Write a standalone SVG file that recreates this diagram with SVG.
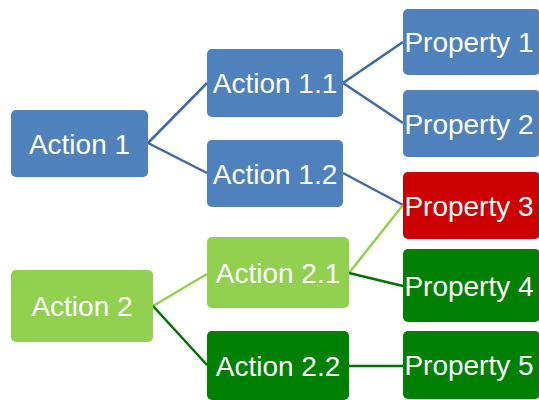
<svg xmlns="http://www.w3.org/2000/svg" width="539" height="400" viewBox="0 0 539 400">
<style>
.blue{fill:#4F81BD}
.lg{fill:#92D050}
.dg{fill:#008000}
.red{fill:#CC0000}
text{font-family:"Liberation Sans",Arial,sans-serif;font-size:28px;fill:#FFFFFF;text-anchor:middle}
.c{fill:none;stroke-width:2.5}
.cb{stroke:#40699E}
.clg{stroke:#92D050}
.cdg{stroke:#007000}
</style>
<rect width="539" height="400" fill="#FFFFFF"/>
<g id="connectors">
<line class="c cb" x1="148" y1="143" x2="207" y2="83"/>
<line class="c cb" x1="148" y1="143" x2="207" y2="173"/>
<line class="c cb" x1="343" y1="83" x2="403" y2="42"/>
<line class="c cb" x1="343" y1="83" x2="403" y2="123"/>
<line class="c cb" x1="343" y1="173" x2="403" y2="205"/>
<line class="c clg" x1="153" y1="306" x2="207" y2="274"/>
<line class="c cdg" x1="153" y1="306" x2="207" y2="365"/>
<line class="c clg" x1="349" y1="273" x2="403" y2="205"/>
<line class="c cdg" x1="349" y1="273" x2="403" y2="286"/>
<line class="c cdg" x1="349" y1="366" x2="403" y2="366"/>
</g>
<g id="action1"><rect class="blue" x="11" y="110" width="137" height="67" rx="5"/><text x="79.5" y="153.5">Action 1</text></g>
<g id="action11"><rect class="blue" x="207" y="49" width="136" height="68" rx="5"/><text x="275" y="93">Action 1.1</text></g>
<g id="action12"><rect class="blue" x="207" y="140" width="136" height="67" rx="5"/><text x="275" y="183.5">Action 1.2</text></g>
<g id="action2"><rect class="lg" x="11" y="270" width="142" height="72" rx="5"/><text x="82" y="316">Action 2</text></g>
<g id="action21"><rect class="lg" x="207" y="237" width="142" height="71" rx="5"/><text x="278" y="282.5">Action 2.1</text></g>
<g id="action22"><rect class="dg" x="207" y="331" width="142" height="69" rx="5"/><text x="278" y="375.5">Action 2.2</text></g>
<g id="property1"><rect class="blue" x="403" y="9" width="137" height="66" rx="5"/><text x="469" y="52">Property 1</text></g>
<g id="property2"><rect class="blue" x="403" y="90" width="137" height="67" rx="5"/><text x="469" y="133.5">Property 2</text></g>
<g id="property3"><rect class="red" x="403" y="172" width="137" height="67" rx="5"/><text x="469" y="215.5">Property 3</text></g>
<g id="property4"><rect class="dg" x="403" y="249" width="137" height="73" rx="5"/><text x="469" y="295.5">Property 4</text></g>
<g id="property5"><rect class="dg" x="403" y="331" width="137" height="68" rx="5"/><text x="469" y="375">Property 5</text></g>
</svg>
